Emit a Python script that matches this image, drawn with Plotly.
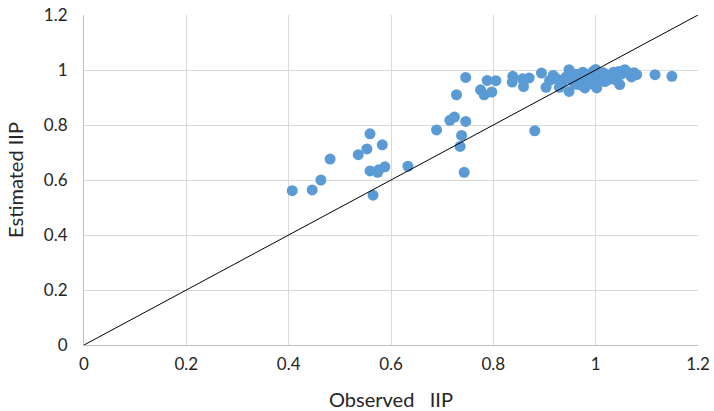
import plotly.graph_objects as go

# Observed vs. estimated IIP values
observed = [
    0.407, 0.446, 0.463, 0.481, 0.536, 0.553, 0.559, 0.583, 0.559, 0.574,
    0.576, 0.588, 0.565, 0.633, 0.689, 0.715, 0.724, 0.728, 0.746, 0.738,
    0.735, 0.743, 0.746, 0.775, 0.782, 0.797, 0.788, 0.805, 0.838, 0.837,
    0.859, 0.857, 0.870, 0.894, 0.903, 0.881, 0.917, 0.924, 0.929, 0.948,
    0.948, 0.956, 0.969, 0.979, 0.982, 0.995, 1.002, 1.008, 1.021, 1.047,
    1.057, 1.067, 1.080, 1.116, 1.149, 0.910, 0.935, 0.942, 0.960, 0.965,
    0.975, 0.988, 0.990, 0.998, 1.000, 1.012, 1.015, 1.030, 1.035, 1.040,
    1.050, 1.060, 1.070, 1.075, 0.955, 0.972, 0.985, 1.025, 1.045, 0.968,
    0.962, 0.978, 0.992, 1.005, 1.018, 1.028, 1.038, 0.950, 0.983, 1.010,
]
estimated = [
    0.561, 0.564, 0.600, 0.676, 0.692, 0.713, 0.768, 0.728, 0.633, 0.628,
    0.637, 0.648, 0.545, 0.650, 0.782, 0.817, 0.829, 0.910, 0.813, 0.762,
    0.722, 0.628, 0.973, 0.928, 0.910, 0.920, 0.962, 0.961, 0.977, 0.956,
    0.940, 0.968, 0.971, 0.989, 0.937, 0.779, 0.980, 0.968, 0.937, 1.001,
    0.922, 0.958, 0.971, 0.935, 0.983, 0.995, 0.935, 0.971, 0.983, 0.947,
    1.001, 0.983, 0.983, 0.983, 0.977, 0.962, 0.955, 0.975, 0.985, 0.950,
    0.992, 0.960, 0.975, 0.985, 1.002, 0.965, 0.990, 0.978, 0.992, 0.970,
    0.985, 0.995, 0.975, 0.990, 0.970, 0.945, 0.958, 0.965, 0.995, 0.985,
    0.948, 0.955, 0.950, 0.960, 0.958, 0.972, 0.965, 0.985, 0.968, 0.980,
]

# 1:1 reference line
ref_line = [0, 1.2]

x_ticks = [0, 0.2, 0.4, 0.6, 0.8, 1, 1.2]
y_ticks = [0, 0.2, 0.4, 0.6, 0.8, 1, 1.2]
tick_text = ["0", "0.2", "0.4", "0.6", "0.8", "1", "1.2"]

font_family = "Lato, 'Open Sans', sans-serif"
text_color = "#262626"

fig = go.Figure()
fig.add_trace(go.Scatter(
    x=observed, y=estimated, mode="markers",
    marker=dict(color="#5B9BD5", size=11, line=dict(width=0)),
    showlegend=False, hoverinfo="x+y",
))
fig.add_trace(go.Scatter(
    x=ref_line, y=ref_line, mode="lines",
    line=dict(color="black", width=1),
    showlegend=False, hoverinfo="skip",
))

axis_common = dict(
    range=[0, 1.2],
    showgrid=True, gridcolor="#D9D9D9", gridwidth=1,
    zeroline=False,
    showline=True, linecolor="#BFBFBF", linewidth=1,
    ticks="", tickfont=dict(family=font_family, size=17, color=text_color),
    automargin=False,
)

fig.update_layout(
    width=714, height=411,
    margin=dict(l=84, r=16, t=15, b=66),
    paper_bgcolor="white", plot_bgcolor="white",
    font=dict(family=font_family, color=text_color),
    xaxis=dict(
        **axis_common,
        tickvals=x_ticks, ticktext=tick_text,
        title=dict(text="Observed\u00a0\u00a0\u00a0IIP",
                   font=dict(family=font_family, size=20, color=text_color),
                   standoff=20),
        ticklabelstandoff=4,
    ),
    yaxis=dict(
        **axis_common,
        tickvals=y_ticks, ticktext=tick_text,
        title=dict(text="Estimated IIP",
                   font=dict(family=font_family, size=20, color=text_color),
                   standoff=14),
        ticklabelstandoff=12,
    ),
)

fig.write_html("out.html")
